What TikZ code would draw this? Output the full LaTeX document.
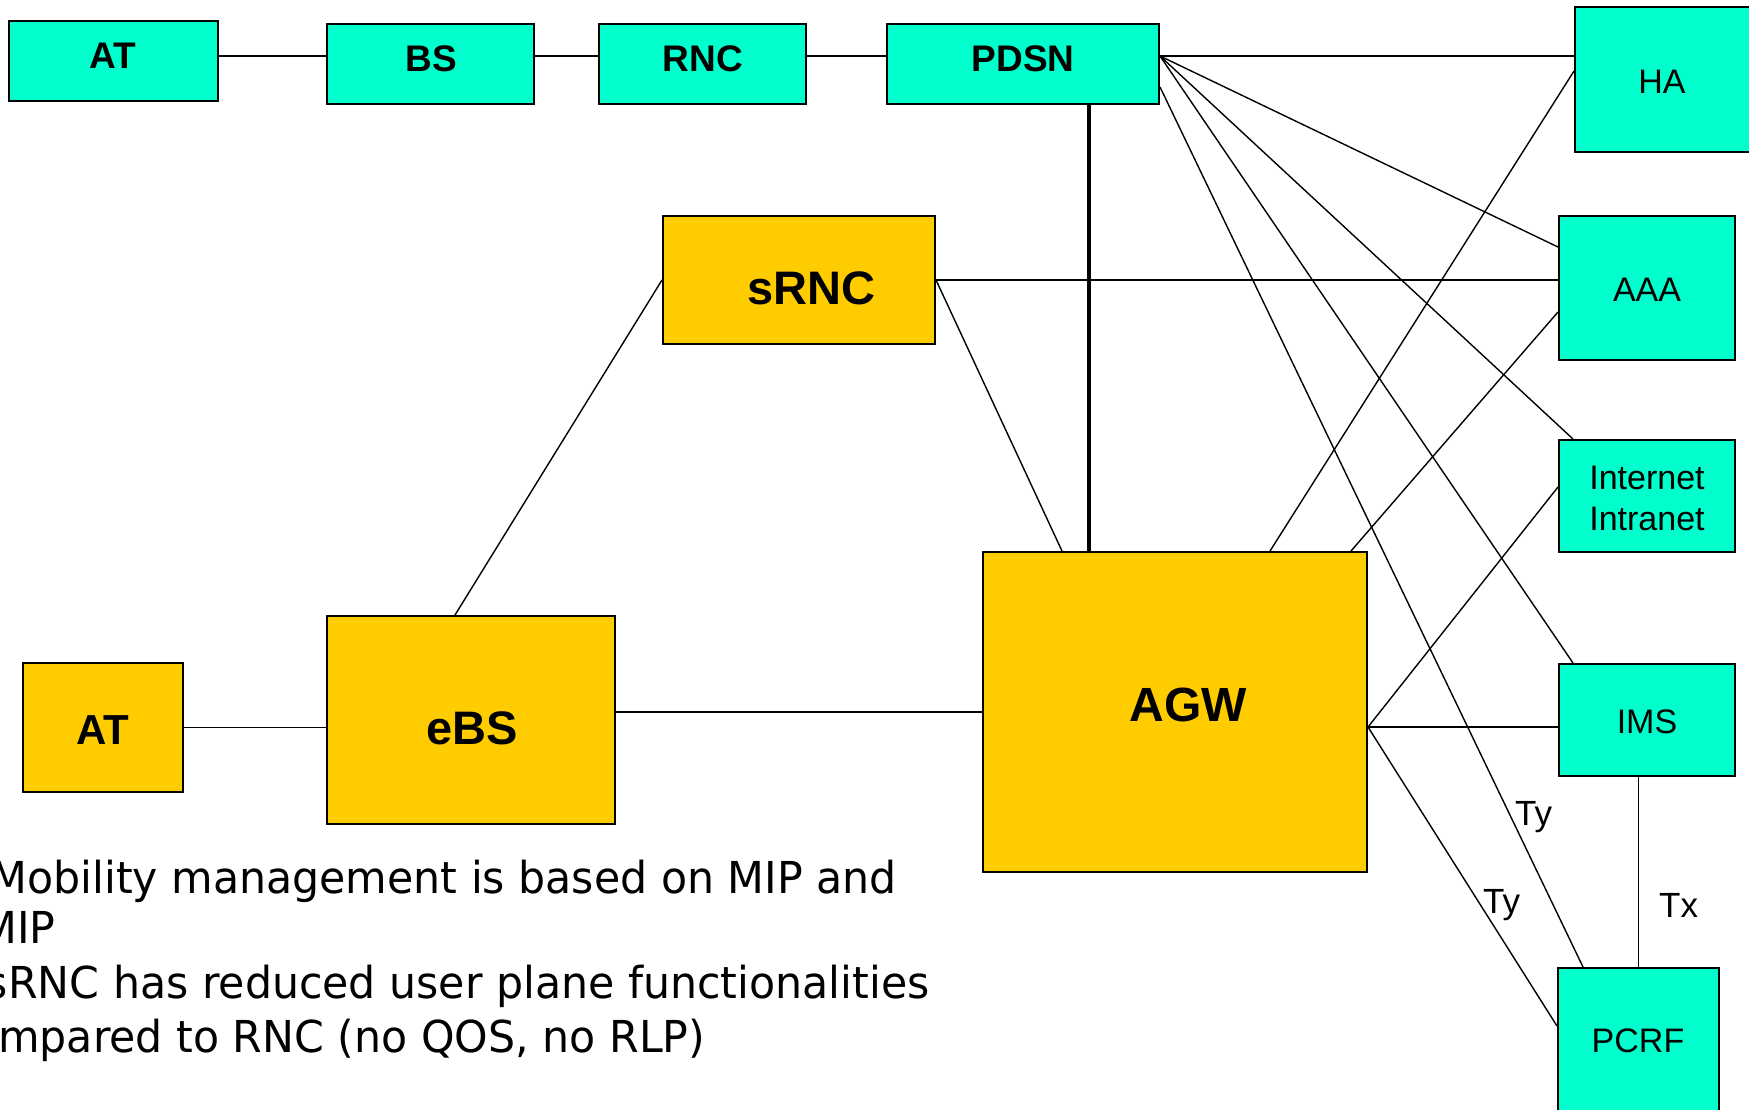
\documentclass[tikz,border=0pt]{standalone}
\usepackage{fontspec}
\setmainfont{Liberation Sans}
\newfontfamily\notefont[FakeStretch=0.97]{DejaVu Sans}
\usetikzlibrary{calc}
\definecolor{netcyan}{HTML}{00FFCC}
\definecolor{netyellow}{HTML}{FFCC00}

\begin{document}
\begin{tikzpicture}[x=1pt,y=-1pt,
  cbox/.style={draw=black, line width=2pt, fill=netcyan, inner sep=0pt},
  ybox/.style={draw=black, line width=2pt, fill=netyellow, inner sep=0pt},
  toplbl/.style={anchor=base, inner sep=0pt, font=\fontsize{37}{44}\selectfont\bfseries},
  sidelbl/.style={anchor=base, inner sep=0pt, font=\fontsize{34}{41}\selectfont},
  biglbl/.style={anchor=base, inner sep=0pt, font=\fontsize{47}{56}\selectfont\bfseries},
  iflbl/.style={anchor=base west, inner sep=0pt, font=\fontsize{35}{42}\selectfont},
  note/.style={anchor=base west, inner sep=0pt, font=\notefont\fontsize{44}{53}\selectfont},
  topline/.style={line width=1.8pt},
  wire/.style={line width=1.4pt},
  trunk/.style={line width=3.4pt}]

\useasboundingbox (0,0) rectangle (1749,1109);
\clip (0,0) rectangle (1749,1109);

% legacy chain
\node[cbox, minimum width=209pt, minimum height=80pt] (at1)  at (113.5,61) {};
\node[cbox, minimum width=207pt, minimum height=80pt] (bs)   at (430.5,64) {};
\node[cbox, minimum width=207pt, minimum height=80pt] (rnc)  at (702.5,64) {};
\node[cbox, minimum width=272pt, minimum height=80pt] (pdsn) at (1023,64) {};
\node[toplbl] (at1-t)  at (113,68)  {AT};
\node[toplbl] (bs-t)   at (431,71)  {BS};
\node[toplbl] (rnc-t)  at (703,71)  {RNC};
\node[toplbl] (pdsn-t) at (1023,71) {PDSN};

% core network entities
\node[cbox, minimum width=177pt, minimum height=145pt] (ha)   at (1663.5,79.5) {};
\node[cbox, minimum width=176pt, minimum height=144pt] (aaa)  at (1647,288) {};
\node[cbox, minimum width=176pt, minimum height=112pt] (inet) at (1647,496) {};
\node[cbox, minimum width=176pt, minimum height=112pt] (ims)  at (1647,720) {};
\node[cbox, minimum width=161pt, minimum height=144pt] (pcrf) at (1638.5,1040) {};
\node[sidelbl] (ha-t)    at (1662,93)   {HA};
\node[sidelbl] (aaa-t)   at (1647,301)  {AAA};
\node[sidelbl] (inet-t1) at (1647,489)  {Internet};
\node[sidelbl] (inet-t2) at (1647,530)  {Intranet};
\node[sidelbl] (ims-t)   at (1647,733)  {IMS};
\node[sidelbl] (pcrf-t)  at (1638,1052) {PCRF};

% evolved access
\node[ybox, minimum width=272pt, minimum height=128pt] (srnc) at (799,280) {};
\node[ybox, minimum width=160pt, minimum height=129pt] (at2)  at (103,727.5) {};
\node[ybox, minimum width=288pt, minimum height=208pt] (ebs)  at (471,720) {};
\node[ybox, minimum width=384pt, minimum height=320pt] (agw)  at (1175,712) {};
\node[biglbl] (srnc-t) at (811,304)    {sRNC};
\node[biglbl, font=\fontsize{42}{50}\selectfont\bfseries] (at2-t) at (103,744) {AT};
\node[biglbl] (ebs-t)  at (472,744)    {eBS};
\node[biglbl, font=\fontsize{48}{58}\selectfont\bfseries] (agw-t) at (1188.5,721) {AGW};

% legacy chain links
\coordinate (row) at (0,56);
\coordinate (trunkx) at (1089,0);
\draw[topline] (at1.east |- row) -- (bs.west |- row);
\draw[topline] (bs.east |- row) -- (rnc.west |- row);
\draw[topline] (rnc.east |- row) -- (pdsn.west |- row);
\draw[topline] (pdsn.east |- row) -- (ha.west |- row);

% PDSN fan-out
\coordinate (fan) at (pdsn.east |- row);
\draw[wire] (fan) -- ($(aaa.north west)+(0,32)$);
\draw[wire] (fan) -- ($(inet.north west)+(15,0)$);
\draw[wire] (fan) -- ($(ims.north west)+(15,0)$);
\draw[wire] ($(pdsn.north east)+(0,64)$) -- ($(pcrf.north west)+(26,0)$);
\draw[trunk] (pdsn.south -| trunkx) -- (agw.north -| trunkx);

% sRNC links
\draw[wire] (srnc.east) -- (aaa.west |- srnc.east);
\draw[wire] (srnc.east) -- ($(agw.north west)+(80,0)$);
\draw[wire] (srnc.west) -- ($(ebs.north west)+(129,0)$);

% access links
\draw[wire] (at2.east) -- (ebs.west |- at2.east);
\draw[wire] (ebs.east |- agw.west) -- (agw.west);

% AGW fan-out
\draw[wire] ($(agw.north west)+(288,0)$) -- ($(ha.north west)+(0,65)$);
\draw[wire] ($(agw.north west)+(369,0)$) -- ($(aaa.north west)+(0,97)$);
\coordinate (agwR) at ($(agw.north east)+(0,176)$);
\draw[wire] (agwR) -- ($(inet.north west)+(0,48)$);
\draw[wire] (agwR) -- (ims.west |- agwR);
\draw[wire] (agwR) -- ($(pcrf.north west)+(0,59)$);
\draw[wire] (pcrf.north |- ims.south) -- (pcrf.north);

% interface names
\node[iflbl] (ty1) at (1515,825) {Ty};
\node[iflbl] (ty2) at (1483,913) {Ty};
\node[iflbl] (tx)  at (1659,917) {Tx};

% notes
\node[note] (n1) at (27,893)  {\llap{M}obility management is based on MIP and};
\node[note] (n2) at (17,943)  {\llap{M}IP};
\node[note] (n3) at (8,998)   {\llap{s}RNC has reduced user plane functionalities};
\node[note] (n4) at (-2,1052) {mpared to RNC (no QOS, no RLP)};
\end{tikzpicture}
\end{document}
